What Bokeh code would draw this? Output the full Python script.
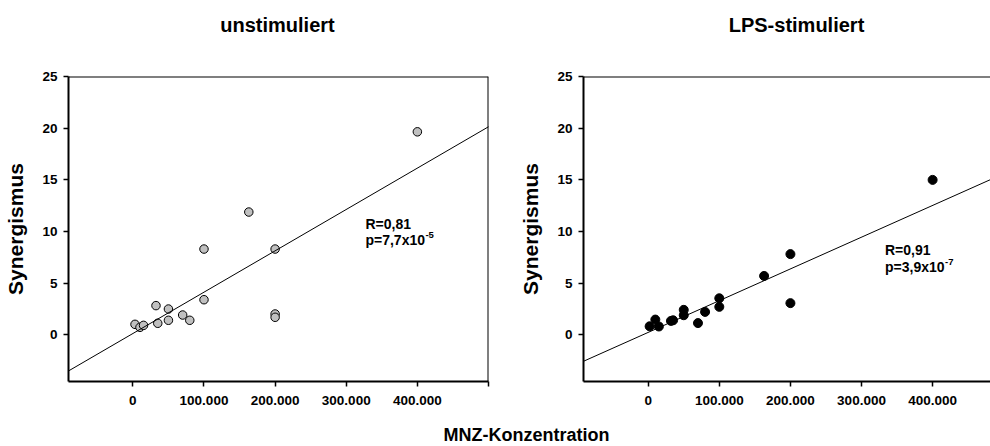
import numpy as np
from bokeh.plotting import figure
from bokeh.layouts import row, column
from bokeh.models import Range1d, FixedTicker, Slope, Span, Label
from bokeh.embed import file_html
from bokeh.resources import INLINE

# ---------------- data ----------------
unstim_x = [400000, 163000, 100000, 200000, 100000, 32500, 50000, 70000,
            80000, 50000, 35000, 3000, 10000, 15000, 200000, 200000]
unstim_y = [19.65, 11.89, 8.31, 8.31, 3.41, 2.84, 2.51, 1.93,
            1.42, 1.42, 1.13, 1.03, 0.74, 0.93, 2.03, 1.71]

lps_x = [400000, 200000, 163000, 200000, 100000, 100000, 80000, 70000,
         50000, 50000, 32000, 35000, 10000, 2000, 15000]
lps_y = [15.0, 7.82, 5.71, 3.08, 3.55, 2.72, 2.23, 1.15,
         2.43, 1.91, 1.36, 1.42, 1.49, 0.84, 0.82]

unstim_slope, unstim_intercept = 4.0e-5, 0.14
lps_slope, lps_intercept = 3.07e-5, 0.25

titles = ["unstimuliert", "LPS-stimuliert"]
y_label = "Synergismus"
x_label = "MNZ-Konzentration"
stat_R = ["R=0,81", "R=0,91"]
stat_p = ["p=7,7x10", "p=3,9x10"]
stat_exp = ["-5", "-7"]
stat_pos_x = [327000, 333000]
stat_pos_yR = [10.7, 8.18]
stat_pos_yp = [9.15, 6.57]

y_ticks = [0, 5, 10, 15, 20, 25]
x_ticks = [0, 100000, 200000, 300000, 400000, 500000]
x_tick_labels = ["0", "100.000", "200.000", "300.000", "400.000", ""]

FONT = "Liberation Sans"
MAIN_H = 370
HEAD_H = 48
FOOT_H = 28


def panel(xs, ys, slope, intercept, fill, size, xr, width, mb_left, mb_right, idx, box_right):
    p = figure(width=width, height=MAIN_H, output_backend="svg", toolbar_location=None,
               x_range=Range1d(*xr), y_range=Range1d(-4.5, 25),
               min_border_left=mb_left, min_border_right=mb_right,
               min_border_top=28, min_border_bottom=MAIN_H - 28 - 305)
    p.grid.visible = False
    p.outline_line_color = None
    p.background_fill_color = "white"
    p.border_fill_color = "white"

    for ax in (p.xaxis[0], p.yaxis[0]):
        ax.axis_line_width = 2
        ax.axis_line_color = "black"
        ax.major_tick_line_width = 1.5
        ax.major_tick_in = 0
        ax.major_tick_out = 5
        ax.minor_tick_line_color = None
        ax.major_label_text_font = FONT
        ax.major_label_text_font_style = "bold"
        ax.major_label_text_font_size = "13.5px"
        ax.major_label_text_color = "black"

    p.xaxis.ticker = FixedTicker(ticks=x_ticks)
    p.xaxis.major_label_overrides = {t: l for t, l in zip(x_ticks, x_tick_labels)}
    p.xaxis.major_label_standoff = 9

    p.yaxis.ticker = FixedTicker(ticks=y_ticks)
    p.yaxis.major_label_standoff = 6
    p.yaxis.axis_label = y_label
    p.yaxis.axis_label_text_font = FONT
    p.yaxis.axis_label_text_font_style = "bold"
    p.yaxis.axis_label_text_font_size = "21px"
    p.yaxis.axis_label_standoff = 12
    p.yaxis.axis_label_text_color = "black"

    # frame top (and right) border
    p.add_layout(Span(location=25, dimension="width", line_color="black", line_width=2))
    if box_right:
        p.add_layout(Span(location=xr[1], dimension="height", line_color="black", line_width=2))

    p.add_layout(Slope(gradient=slope, y_intercept=intercept, line_color="black", line_width=1))
    p.scatter(xs, ys, size=size, fill_color=fill, line_color="black", line_width=1)

    common = dict(text_font=FONT, text_font_style="bold", text_color="black")
    p.add_layout(Label(x=stat_pos_x[idx], y=stat_pos_yR[idx], text=stat_R[idx],
                       text_font_size="14px", text_baseline="alphabetic", **common))
    p.add_layout(Label(x=stat_pos_x[idx], y=stat_pos_yp[idx], text=stat_p[idx],
                       text_font_size="14px", text_baseline="alphabetic", **common))
    p.add_layout(Label(x=stat_pos_x[idx], y=stat_pos_yp[idx], text=stat_exp[idx],
                       x_offset=60, y_offset=5,
                       text_font_size="9.5px", text_baseline="alphabetic", **common))
    return p


p1 = panel(unstim_x, unstim_y, unstim_slope, unstim_intercept, "#c0c0c0", 8.5,
           (-90500, 500000), 495, 68, 7, 0, True)
p2 = panel(lps_x, lps_y, lps_slope, lps_intercept, "black", 9,
           (-91000, 481400), 495, 88, 0, 1, False)


def text_strip(height, labels):
    f = figure(width=990, height=height, output_backend="svg", toolbar_location=None,
               x_axis_type=None, y_axis_type=None,
               x_range=Range1d(0, 990), y_range=Range1d(0, height),
               min_border=0)
    f.grid.visible = False
    f.outline_line_color = None
    for (x, y, t, fs) in labels:
        f.add_layout(Label(x=x, y=y, text=t, x_units="screen", y_units="screen",
                           text_align="center", text_baseline="middle",
                           text_font=FONT, text_font_style="bold",
                           text_font_size=fs, text_color="black"))
    return f


header = text_strip(HEAD_H, [(277, 24, titles[0], "20px"), (796, 24, titles[1], "20px")])
footer = text_strip(FOOT_H, [(526, 12, x_label, "18px")])

layout = column(header, row(p1, p2), footer)

open("out.html", "w").write(file_html(layout, INLINE))
